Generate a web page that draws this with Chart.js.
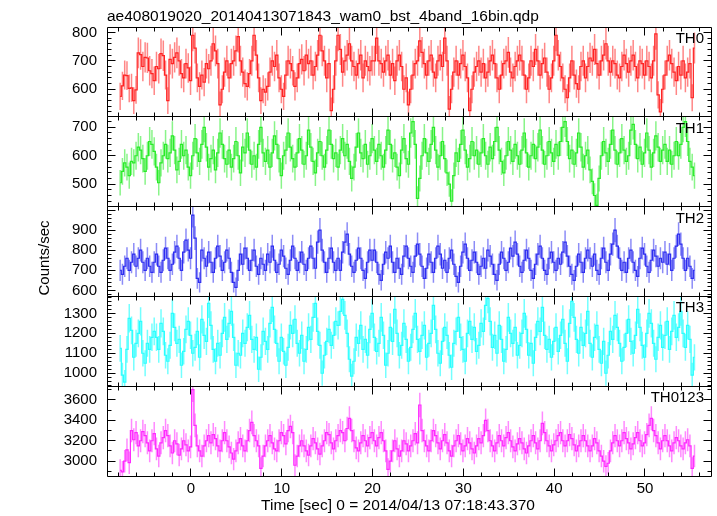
<!DOCTYPE html>
<html lang="en">
<head>
<meta charset="UTF-8">
<title>WAM burst light curve</title>
<script src="https://cdn.jsdelivr.net/npm/chart.js@4"></script>
<style>
  html, body { margin: 0; padding: 0; background: #fff; }
  #wrap { width: 717px; height: 516px; }
</style>
</head>
<body>
<div id="wrap"><canvas id="lc" width="717" height="516"></canvas></div>
<script>
// 0.25 s bins, first bin centre at -7.8 s
var T_START = -7.8;
var BIN = 0.25;

var bandNames = ['TH0', 'TH1', 'TH2', 'TH3', 'TH0123'];

var th0 = [
  575,612,650,648,603,605,560,598,728,722,680,712,710,665,655,630,
  680,672,725,718,650,560,705,690,712,728,700,655,640,690,675,630,
  790,745,640,610,650,625,690,672,700,760,735,690,545,600,660,700,
  640,690,700,735,785,700,660,620,610,655,700,790,720,640,560,600,
  590,610,660,700,680,720,640,600,575,650,700,690,665,610,640,690,
  705,665,720,690,700,650,680,720,790,735,700,640,690,525,600,700,
  790,740,660,700,720,760,700,680,650,690,720,640,700,680,665,700,
  700,780,700,690,660,700,720,650,690,630,700,720,680,600,640,545,
  600,650,690,700,770,730,690,650,700,720,660,640,700,720,680,780,
  700,530,600,660,700,650,690,720,680,640,525,600,660,680,700,660,
  690,640,660,700,720,690,640,600,650,690,700,730,660,640,680,700,
  720,700,650,600,640,700,680,740,700,650,690,710,660,600,640,700,
  790,720,680,640,600,570,640,700,650,620,600,680,700,640,680,710,
  700,740,690,650,700,720,760,700,660,700,690,650,640,680,720,690,
  660,700,720,680,640,700,690,650,700,680,640,700,795,580,520,600,
  650,700,720,690,660,630,680,650,700,640,660,690,570,745
];

var th1 = [
  505,545,575,560,530,580,575,600,630,620,590,545,600,650,640,615,
  560,505,575,600,640,590,610,670,620,550,580,640,600,620,560,530,
  600,660,610,580,640,700,630,560,590,620,550,610,680,640,590,570,
  620,560,590,650,600,540,630,610,680,620,570,600,560,640,700,610,
  580,620,560,610,670,640,590,530,600,620,680,630,590,560,610,660,
  620,570,600,690,630,580,540,610,650,600,560,620,690,640,590,610,
  560,620,660,600,640,580,520,560,630,680,610,590,640,570,600,660,
  620,580,640,600,560,620,690,640,590,610,560,530,620,660,590,570,
  680,720,640,450,520,600,660,610,580,640,700,620,560,600,650,590,
  540,500,440,530,610,580,640,690,620,560,590,650,600,620,570,610,
  660,600,570,630,590,650,700,620,580,540,600,650,620,580,640,600,
  570,620,680,610,560,600,640,590,630,690,620,570,600,650,610,580,
  640,600,650,700,720,650,590,620,570,610,680,630,560,600,620,550,
  510,460,425,520,600,650,610,580,640,690,620,570,610,660,620,580,
  600,690,710,640,590,630,570,610,680,620,560,610,670,630,580,620,
  640,580,620,570,600,650,600,640,700,720,650,580,560,530
];

var th2 = [
  700,680,720,760,700,740,780,720,760,800,740,700,760,720,690,740,
  780,720,690,750,810,760,700,730,790,820,760,700,790,850,800,760,
  975,860,660,640,800,760,720,790,740,690,760,820,770,700,740,800,
  760,690,640,615,700,780,730,810,760,700,750,800,720,680,760,730,
  700,780,740,820,750,690,730,800,770,710,680,750,820,760,700,740,
  790,730,700,760,820,760,710,840,900,800,740,690,760,810,740,700,
  760,700,790,840,880,780,720,690,750,810,760,700,660,740,800,750,
  800,740,680,650,730,790,760,820,740,690,760,710,680,770,820,760,
  720,690,770,830,780,720,660,710,780,740,690,760,820,780,710,750,
  690,760,800,730,670,640,720,790,830,760,700,750,790,740,680,720,
  760,710,800,770,730,680,650,730,790,760,700,740,810,770,840,780,
  720,690,750,800,760,700,660,730,780,820,760,700,680,760,790,740,
  700,760,730,790,840,770,720,680,650,720,780,740,690,760,800,760,
  720,780,700,680,760,810,740,700,780,830,900,820,760,700,740,690,
  760,800,740,700,670,760,810,780,720,690,750,800,770,720,760,740,
  790,730,780,700,760,820,880,830,760,700,760,720,660,700
];

var th3 = [
  1125,990,955,1120,1275,1215,1080,1150,1200,1260,1100,1050,1150,1120,1180,1210,
  1180,1120,1250,1210,1090,1060,1140,1300,1230,1150,1170,1040,1110,1220,1260,1190,
  1100,1130,1210,1080,1270,1190,1160,1350,1240,1120,1060,1150,1090,1200,1280,1170,
  1250,1310,1180,1040,1100,1090,1200,1150,1230,1290,1170,1120,1180,1020,1080,1210,
  1160,1120,1250,1330,1220,1150,1060,1180,1110,1040,1130,1240,1200,1270,1150,1100,
  1190,1060,1120,1230,1170,1280,1350,1210,1140,1000,1090,1160,1220,1140,1190,1260,
  1240,1310,1370,1290,1200,1070,985,1060,1180,1150,1240,1120,1170,1090,1220,1300,
  1180,1110,1150,1280,1190,1040,1100,1230,1160,1320,1200,1090,1140,1250,1170,1060,
  1130,1220,1300,1170,1110,1190,1240,1080,1150,1200,1340,1220,1100,1050,1160,1230,
  1190,1090,1030,1150,1210,1280,1180,1120,1060,1200,1260,1170,1230,1110,1140,1250,
  1210,1340,1375,1260,1130,1190,1100,1240,1170,1060,1120,1280,1200,1150,1230,1090,
  1140,1200,1300,1220,1090,1150,1050,1180,1260,1210,1330,1190,1120,1170,1080,1160,
  1230,1110,1190,1270,1150,1060,1250,1360,1280,1170,1100,1230,1140,1200,1310,1150,
  1080,1180,1240,1120,1050,1160,1000,1090,1210,1170,1290,1230,1150,1060,1130,1200,
  1270,1160,1100,1190,1320,1230,1140,1080,1200,1300,1250,1150,1070,1180,1240,1130,
  1190,1260,1120,1210,1290,1180,1230,1310,1200,1130,1240,1170,990,1080
];

var th0123 = [
  2910,2895,3000,3110,2985,3300,3210,3280,3150,3200,3290,3250,3180,3100,3200,3270,
  3120,3050,3180,3230,3300,3250,3150,3080,3200,3170,3060,3120,3200,3160,3100,3140,
  3700,3350,3150,3100,3050,3150,3200,3250,3180,3260,3220,3150,3100,3200,3280,3200,
  3140,3080,3020,3100,3180,3220,3150,3100,3200,3300,3380,3250,3200,3150,2930,3050,
  3150,3200,3250,3180,3120,3100,3200,3280,3250,3170,3300,3340,3280,2960,3050,3150,
  3200,3150,3100,3060,3150,3220,3180,3120,3070,3150,3200,3280,3260,3180,3120,3200,
  3250,3300,3280,3200,3320,3420,3300,3200,3130,3100,3180,3250,3200,3150,3230,3280,
  3200,3150,3230,3280,3200,3100,2920,3000,3100,3200,3120,3050,3100,3200,3170,3100,
  3150,3200,3270,3180,3550,3300,3200,3150,3100,3200,3300,3250,3180,3120,3200,3260,
  3180,3100,3050,3150,3200,3250,3170,3100,3150,3220,3180,3120,3080,3150,3220,3180,
  3250,3400,3300,3200,3150,3100,3180,3250,3200,3150,3230,3280,3200,3140,3100,3170,
  3220,3180,3120,3080,3150,3200,3250,3180,3120,3200,3370,3280,3200,3150,3100,3160,
  3200,3250,3280,3200,3150,3200,3260,3220,3160,3100,3150,3200,3250,3200,3150,3100,
  3150,3220,3180,3100,3050,3000,2950,2980,3100,3180,3250,3200,3150,3200,3280,3220,
  3180,3120,3170,3230,3280,3200,3150,3180,3260,3350,3420,3300,3250,3180,3120,3200,
  3250,3200,3150,3100,3180,3230,3200,3150,3120,3180,3210,3150,2930,3050
];

var series = [th0, th1, th2, th3, th0123];

var xLimits = [-9.25, 57.27];
var xTicks = [0, 10, 20, 30, 40, 50];
var yLimits = [[503, 819], [421, 737], [570, 1017], [935, 1385], [2855, 3734]];
var yTicks = [
  [600, 700, 800],
  [500, 600, 700],
  [600, 700, 800, 900],
  [1000, 1100, 1200, 1300],
  [3000, 3200, 3400, 3600]
];
var yMajor = [100, 100, 100, 100, 200];
var yMinor = [20, 20, 20, 20, 100];

var lineColors = ['rgb(255,35,35)', 'rgb(40,235,40)', 'rgb(45,45,240)', 'rgb(40,255,255)', 'rgb(255,40,255)'];
var barColors = ['rgba(255,35,35,0.55)', 'rgba(40,235,40,0.55)', 'rgba(45,45,240,0.55)', 'rgba(40,255,255,0.65)', 'rgba(255,40,255,0.55)'];

var FONT = '"Liberation Sans", Arial, Helvetica, sans-serif';

function crisp(v) { return Math.round(v - 0.5) + 0.5; }

// counting error of a rate in one bin
function rateErr(v) { return Math.sqrt(v / BIN); }

function panelClip(chart, i) {
  var s = chart.scales['y' + i];
  var a = chart.chartArea;
  chart.ctx.beginPath();
  chart.ctx.rect(a.left, s.top, a.right - a.left, s.bottom - s.top);
  chart.ctx.clip();
}

var qdpLook = {
  id: 'qdpLook',
  beforeDatasetsDraw: function (chart) {
    var ctx = chart.ctx;
    var xs = chart.scales.x;
    series.forEach(function (arr, i) {
      var ys = chart.scales['y' + i];
      ctx.save();
      panelClip(chart, i);
      ctx.strokeStyle = barColors[i];
      ctx.lineWidth = 1.5;
      ctx.beginPath();
      arr.forEach(function (v, j) {
        var px = xs.getPixelForValue(T_START + BIN * j);
        var e = rateErr(v);
        ctx.moveTo(px, ys.getPixelForValue(v - e));
        ctx.lineTo(px, ys.getPixelForValue(v + e));
      });
      ctx.stroke();
      ctx.restore();
    });
  },
  beforeDatasetDraw: function (chart, args) {
    chart.ctx.save();
    panelClip(chart, args.index);
  },
  afterDatasetDraw: function (chart) {
    chart.ctx.restore();
  },
  afterDraw: function (chart) {
    var ctx = chart.ctx;
    var a = chart.chartArea;
    var xs = chart.scales.x;
    var L = crisp(a.left), R = crisp(a.right);
    ctx.save();
    ctx.strokeStyle = '#000';
    ctx.lineWidth = 1;
    ctx.beginPath();
    series.forEach(function (arr, i) {
      var ys = chart.scales['y' + i];
      var T = crisp(ys.top), B = crisp(ys.bottom);
      ctx.rect(L, T, R - L, B - T);
      var lo = yLimits[i][0], hi = yLimits[i][1];
      for (var v = Math.ceil(lo / yMinor[i]) * yMinor[i]; v <= hi; v += yMinor[i]) {
        var py = crisp(ys.getPixelForValue(v));
        var len = (v % yMajor[i] === 0) ? 8 : 4;
        ctx.moveTo(L, py); ctx.lineTo(L + len, py);
        ctx.moveTo(R, py); ctx.lineTo(R - len, py);
      }
      for (var t = -8; t <= 56; t += 2) {
        var px = crisp(xs.getPixelForValue(t));
        var tl = (t % 10 === 0) ? 8 : 4;
        ctx.moveTo(px, T); ctx.lineTo(px, T + tl);
        ctx.moveTo(px, B); ctx.lineTo(px, B - tl);
      }
    });
    ctx.stroke();

    ctx.fillStyle = '#000';
    ctx.font = '15px ' + FONT;
    ctx.textAlign = 'right';
    ctx.textBaseline = 'alphabetic';
    series.forEach(function (arr, i) {
      var ys = chart.scales['y' + i];
      ctx.fillText(bandNames[i], 704, ys.top + 16);
    });

    ctx.textAlign = 'left';
    ctx.font = '15.5px ' + FONT;
    ctx.fillText('ae408019020_20140413071843_wam0_bst_4band_16bin.qdp', 107, 21);

    ctx.textAlign = 'center';
    ctx.textBaseline = 'middle';
    ctx.fillText('Time [sec] 0 = 2014/04/13 07:18:43.370', 398, 506);

    ctx.font = '15px ' + FONT;
    ctx.translate(44.5, 258);
    ctx.rotate(-Math.PI / 2);
    ctx.fillText('Counts/sec', 0, 0);
    ctx.restore();
  }
};

var scales = {
  x: {
    type: 'linear',
    min: xLimits[0],
    max: xLimits[1],
    afterBuildTicks: function (s) { s.ticks = xTicks.map(function (v) { return { value: v }; }); },
    afterFit: function (s) { s.height = 40; },
    grid: { display: false, drawTicks: false },
    border: { display: false },
    ticks: {
      padding: 4, color: '#000', autoSkip: false, maxRotation: 0,
      font: { family: FONT, size: 15 },
      callback: function (v) { return String(v); }
    }
  }
};

// left stacked axes are laid out last-defined first, so add the bottom panel first
for (var k = series.length - 1; k >= 0; k--) {
  scales['y' + k] = {
    type: 'linear',
    position: 'left',
    stack: 'bands',
    stackWeight: 1,
    min: yLimits[k][0],
    max: yLimits[k][1],
    afterBuildTicks: (function (n) {
      return function (s) { s.ticks = yTicks[n].map(function (v) { return { value: v }; }); };
    })(k),
    afterFit: function (s) { s.width = 107; },
    grid: { display: false, drawTicks: false },
    border: { display: false },
    ticks: {
      padding: 10, color: '#000', autoSkip: false,
      font: { family: FONT, size: 15 },
      callback: function (v) { return String(v); }
    }
  };
}

var datasets = series.map(function (arr, i) {
  return {
    label: bandNames[i],
    data: arr.map(function (v, j) { return { x: T_START + BIN * j, y: v }; }),
    yAxisID: 'y' + i,
    stepped: 'middle',
    borderColor: lineColors[i],
    borderWidth: 1.2,
    pointRadius: 0,
    fill: false
  };
});

new Chart(document.getElementById('lc'), {
  type: 'line',
  data: { datasets: datasets },
  options: {
    responsive: false,
    animation: false,
    events: [],
    layout: { padding: { top: 27, right: 6, left: 0, bottom: 0 } },
    plugins: { legend: { display: false }, tooltip: { enabled: false }, title: { display: false } },
    scales: scales
  },
  plugins: [qdpLook]
});
</script>
</body>
</html>
